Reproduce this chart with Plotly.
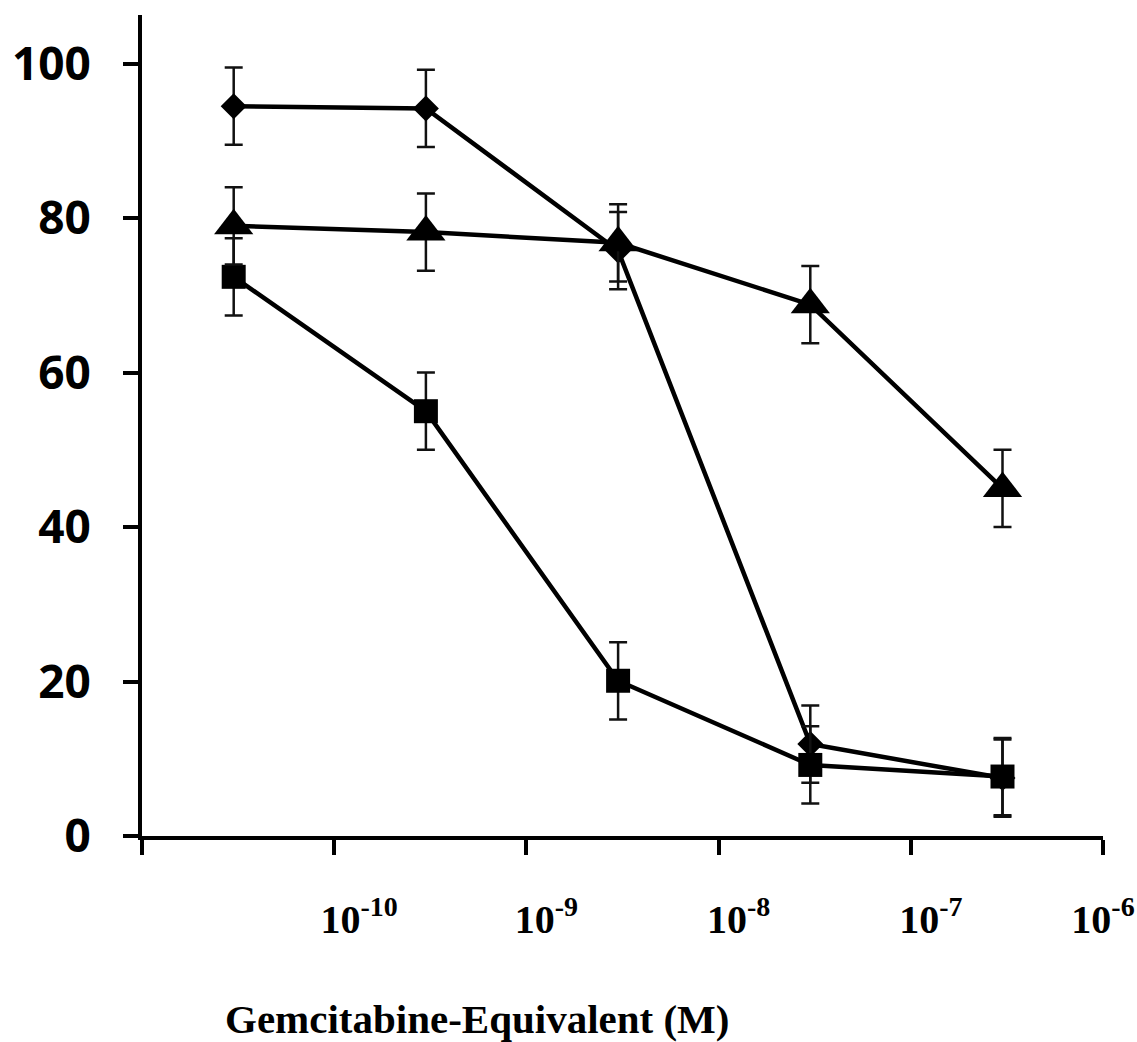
import plotly.graph_objects as go

# concentrations (M)
conc = [3e-11, 3e-10, 3e-9, 3e-8, 3e-7]

# series values (% viability) and errors
diamond_y = [94.5, 94.2, 75.8, 11.9, 7.5]
diamond_err = [5, 5, 5, 5, 5]
square_y = [72.4, 55.0, 20.1, 9.2, 7.7]
square_err = [5, 5, 5, 5, 5]
triangle_y = [79.0, 78.2, 76.8, 68.8, 45.0]
triangle_err = [5, 5, 5, 5, 5]

x_tickvals = [1e-11, 1e-10, 1e-9, 1e-8, 1e-7, 1e-6]
x_ticktext = ["", "&#160;&#160;&#160;&#160;&#160;10<sup>-10</sup>",
              "&#160;&#160;&#160;&#160;10<sup>-9</sup>",
              "&#160;&#160;&#160;&#160;10<sup>-8</sup>",
              "&#160;&#160;&#160;&#160;10<sup>-7</sup>",
              "10<sup>-6</sup>"]
y_tickvals = [0, 20, 40, 60, 80, 100]

x_title = "Gemcitabine-Equivalent (M)"

fig = go.Figure()

def add_series(y, err, symbol, size):
    fig.add_trace(go.Scatter(
        x=conc, y=y, mode="lines+markers",
        line=dict(color="black", width=4.5),
        marker=dict(symbol=symbol, size=size, color="black", line=dict(width=0)),
        error_y=dict(type="data", array=err, visible=True, color="#111111",
                     thickness=2.5, width=9),
        showlegend=False,
    ))

add_series(diamond_y, diamond_err, "diamond", 20)
add_series(square_y, square_err, "square", 24)
add_series(triangle_y, triangle_err, "triangle-up", 34)

L, R, T, B = 142, 34, 15, 206
W, H = 1137, 1042
pw, ph = W - L - R, H - T - B

fig.update_layout(
    width=W, height=H,
    margin=dict(l=L, r=R, t=T, b=B),
    paper_bgcolor="white", plot_bgcolor="white",
    showlegend=False,
)

fig.update_xaxes(
    type="log", range=[-11, -6], automargin=False,
    tickmode="array", tickvals=x_tickvals, ticktext=x_ticktext,
    showgrid=False, zeroline=False,
    showline=True, linecolor="black", linewidth=4,
    ticks="outside", ticklen=15, tickwidth=4, tickcolor="black",
    tickfont=dict(family="Liberation Serif", size=40, color="black", weight="bold"),
    ticklabelstandoff=30, ticklabeloverflow="allow",
)
fig.update_yaxes(
    range=[0, 106.3], automargin=False,
    tickmode="array", tickvals=y_tickvals,
    showgrid=False, zeroline=False,
    showline=True, linecolor="black", linewidth=4,
    ticks="outside", ticklen=15, tickwidth=4, tickcolor="black",
    tickfont=dict(family="Open Sans", size=46, color="black", weight="bold"),
    ticklabelstandoff=23,
)

fig.add_annotation(
    text=x_title, xref="paper", yref="paper",
    x=(223 - L) / pw, xanchor="left",
    y=-(1019 - (H - B)) / ph, yanchor="middle",
    showarrow=False,
    font=dict(family="Liberation Serif", size=41, color="black", weight="bold"),
)

fig.write_html("out.html")
